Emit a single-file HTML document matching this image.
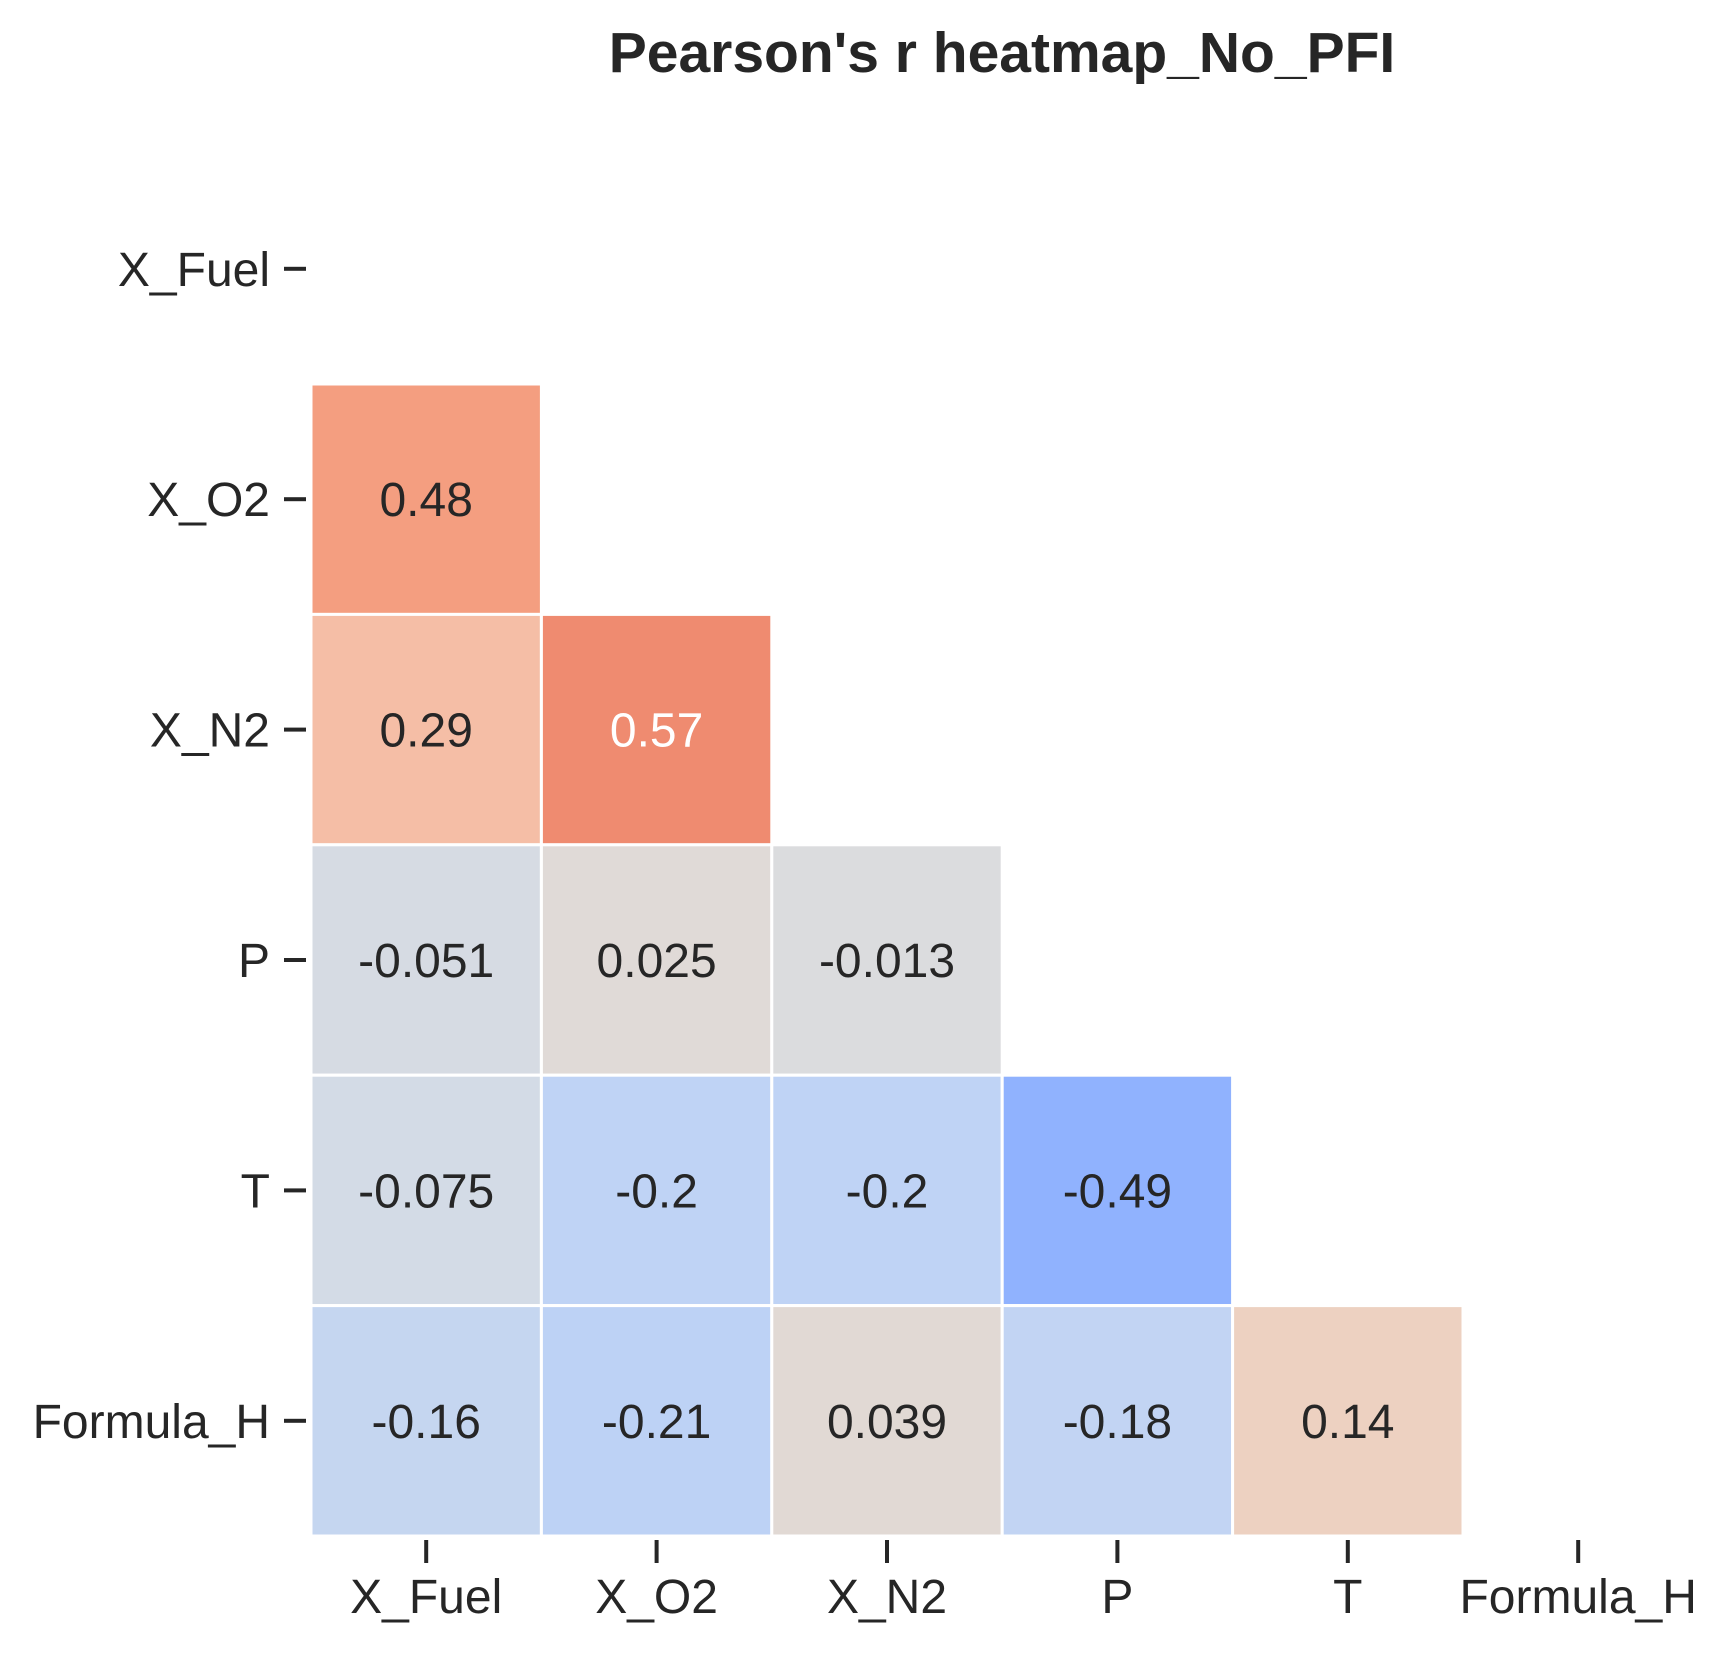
<!DOCTYPE html>
<html><head><meta charset="utf-8"><style>
html,body{margin:0;padding:0;background:#fff}
svg{display:block}
text{font-family:"Liberation Sans",Arial,sans-serif;fill:#262626}
</style></head><body>
<svg id="chart" width="1728" height="1653" viewBox="0 0 1728 1653" xmlns="http://www.w3.org/2000/svg">
<text x="1002" y="72" text-anchor="middle" font-size="57" font-weight="bold">Pearson's r heatmap_No_PFI</text>
<g id="cells"></g>
<g id="yaxis"></g>
<g id="xaxis"></g>
</svg>
<script>
const labels = ["X_Fuel","X_O2","X_N2","P","T","Formula_H"];
const rowX_O2 = [0.48];
const rowX_N2 = [0.29, 0.57];
const rowP = [-0.051, 0.025, -0.013];
const rowT = [-0.075, -0.2, -0.2, -0.49];
const rowFormula_H = [-0.16, -0.21, 0.039, -0.18, 0.14];
const rows = [[], rowX_O2, rowX_N2, rowP, rowT, rowFormula_H];

const gridLeft = 311, gridTop = 153.6, cellW = 230.4;
const NS = "http://www.w3.org/2000/svg";
function xPos(i){ return gridLeft + i*cellW; }
function yPos(j){ return gridTop + j*cellW; }

const stops = [[-1,[59,76,192]],[-0.49,[144,178,254]],[-0.2,[191,211,245]],[-0.075,[211,219,230]],[0,[221,220,220]],[0.14,[237,209,193]],[0.29,[245,190,166]],[0.48,[244,158,128]],[0.57,[239,139,112]],[1,[180,4,38]]];
function color(v){
  for(let k=0;k<stops.length-1;k++){
    const a=stops[k], b=stops[k+1];
    if(v>=a[0] && v<=b[0]){
      const t=(v-a[0])/(b[0]-a[0]);
      const c=a[1].map((x,i)=>Math.round(x+(b[1][i]-x)*t));
      return `rgb(${c.join(",")})`;
    }
  }
  return "#ddd";
}

const cellsG = document.getElementById("cells");
rows.forEach((row,j)=>{
  row.forEach((v,i)=>{
    const r=document.createElementNS(NS,"rect");
    r.setAttribute("x",xPos(i)); r.setAttribute("y",yPos(j));
    r.setAttribute("width",cellW); r.setAttribute("height",cellW);
    r.setAttribute("fill",color(v)); r.setAttribute("stroke","#fff"); r.setAttribute("stroke-width","3");
    
    
    cellsG.appendChild(r);
    const t=document.createElementNS(NS,"text");
    t.setAttribute("x",xPos(i)+cellW/2); t.setAttribute("y",yPos(j)+cellW/2+17);
    t.setAttribute("text-anchor","middle"); t.setAttribute("font-size","48");
    if(Math.abs(v)>0.5) t.setAttribute("style","fill:#fff");
    t.textContent=String(v);
    
    
    cellsG.appendChild(t);
  });
});

const yaxisG=document.getElementById("yaxis");
const xaxisG=document.getElementById("xaxis");
labels.forEach((lab,k)=>{
  const cy=yPos(k)+cellW/2;
  const tk=document.createElementNS(NS,"rect");
  tk.setAttribute("x",284); tk.setAttribute("y",cy-2); tk.setAttribute("width",22); tk.setAttribute("height",4); tk.setAttribute("fill","#262626");
  
  
  yaxisG.appendChild(tk);
  const t=document.createElementNS(NS,"text");
  t.setAttribute("x",270); t.setAttribute("y",cy+17); t.setAttribute("text-anchor","end"); t.setAttribute("font-size","48");
  t.textContent=lab;
  
  
  yaxisG.appendChild(t);

  const cx=xPos(k)+cellW/2;
  const xt=document.createElementNS(NS,"rect");
  xt.setAttribute("x",cx-2); xt.setAttribute("y",1540); xt.setAttribute("width",4); xt.setAttribute("height",23); xt.setAttribute("fill","#262626");
  
  
  xaxisG.appendChild(xt);
  const x2=document.createElementNS(NS,"text");
  x2.setAttribute("x",cx); x2.setAttribute("y",1613); x2.setAttribute("text-anchor","middle"); x2.setAttribute("font-size","48");
  x2.textContent=lab;
  
  
  xaxisG.appendChild(x2);
});
</script>
</body></html>
